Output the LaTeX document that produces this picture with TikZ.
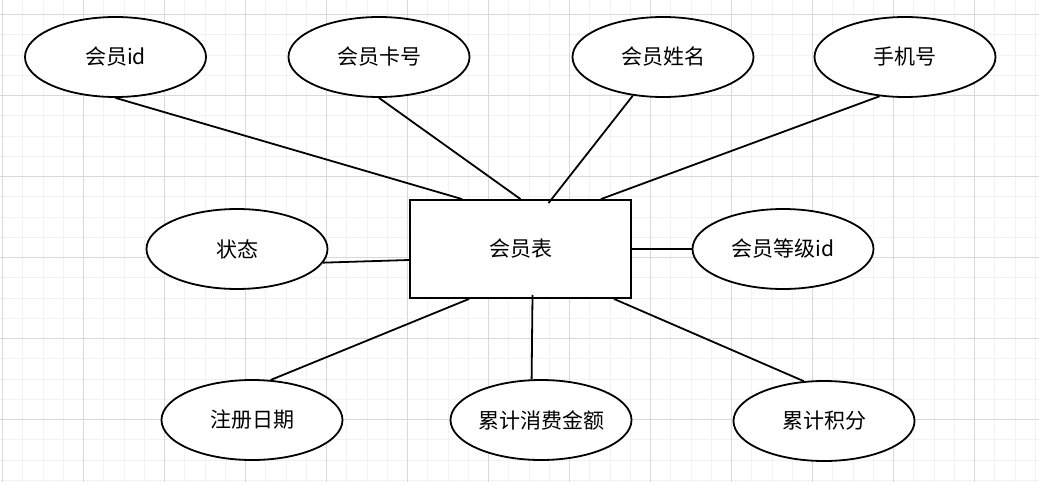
\documentclass[tikz,border=0pt]{standalone}
\usepackage{fontspec}
\setmainfont{Noto Sans CJK SC}
\usetikzlibrary{shapes.geometric}

\begin{document}
\begin{tikzpicture}[x=1pt, y=-1pt,
  minorgrid/.style={black!5, line width=1pt},
  majorgrid/.style={black!15, line width=1pt},
  attr/.style={draw, fill=white, ellipse, line width=1.8pt, minimum width=181pt, minimum height=80pt, inner sep=0pt, font=\fontsize{21}{25}\selectfont},
  entity/.style={draw, fill=white, rectangle, line width=1.8pt, minimum width=221pt, minimum height=98pt, font=\fontsize{21}{25}\selectfont},
  link/.style={line width=1.8pt}]
\fill[white] (0,0) rectangle (1039,482);
\useasboundingbox (0,0) rectangle (1039,482);
% background grid
\foreach \k in {0,...,51} \draw[minorgrid] ({2.7+20.25*\k},0) -- ({2.7+20.25*\k},482);
\foreach \k in {1,...,24} \draw[minorgrid] (0,{-5.55+20.25*\k}) -- (1039,{-5.55+20.25*\k});
\foreach \k in {0,...,12} \draw[majorgrid] ({2.7+81*\k},0) -- ({2.7+81*\k},482);
\foreach \k in {0,...,5} \draw[majorgrid] (0,{14.7+81*\k}) -- (1039,{14.7+81*\k});
% entity and attributes
\node[entity] (member) at (520.5,249) {会员表};
\node[attr] (mid) at (115.5,57) {会员id};
\node[attr] (card) at (379,57) {会员卡号};
\node[attr] (name) at (663,57) {会员姓名};
\node[attr] (phone) at (905,57) {手机号};
\node[attr] (state) at (237,249) {状态};
\node[attr] (level) at (783,249) {会员等级id};
\node[attr] (regdate) at (252,420) {注册日期};
\node[attr] (spend) at (541,420) {累计消费金额};
\node[attr] (points) at (824,421) {累计积分};
% connectors
\draw[link] (mid.south) -- ([xshift=53pt]member.north west);
\draw[link] (card.south) -- (member.north);
\draw[link] (name.232) -- ([xshift=28pt,yshift=-4pt]member.north);
\draw[link] (phone.237) -- ([xshift=-31pt]member.north east);
\draw[link] (state.351) -- ([yshift=-11pt]member.west);
\draw[link] (member.east) -- (level.west);
\draw[link] (regdate.65) -- ([xshift=60pt]member.south west);
\draw[link] (spend.103) -- ([xshift=12pt,yshift=4pt]member.south);
\draw[link] (points.117) -- ([xshift=-18pt]member.south east);
\end{tikzpicture}
\end{document}
